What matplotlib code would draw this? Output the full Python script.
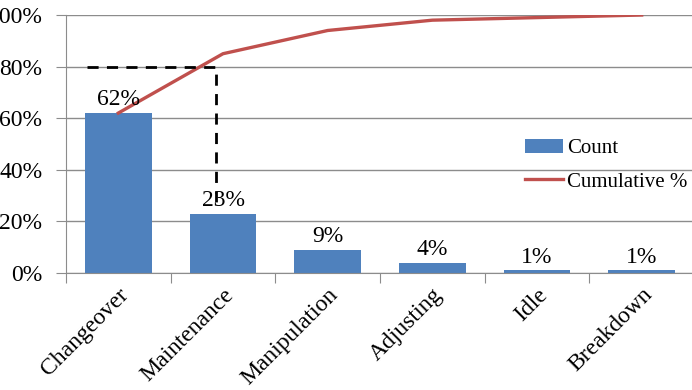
import matplotlib.pyplot as plt
from matplotlib.ticker import FuncFormatter

# Data
categories = ['Changeover', 'Maintenance', 'Manipulation', 'Adjusting', 'Idle', 'Breakdown']
count_pct = [62, 23, 9, 4, 1, 1]
cumulative_pct = [62, 85, 94, 98, 99, 100]

plt.rcParams['font.family'] = ['Liberation Serif', 'DejaVu Serif']
FS = 17

fig = plt.figure(figsize=(6.92, 3.9), dpi=100)
ax = fig.add_axes([66 / 692, 0.30, 628 / 692, 0.6615])

x = list(range(len(categories)))
bars = ax.bar(x, count_pct, width=0.64, color='#4F81BD', label='Count', zorder=2)
line, = ax.plot(x, cumulative_pct, color='#C0504D', linewidth=2.4,
                label='Cumulative %', zorder=3)

# data labels above the bars
for xi, v in zip(x, count_pct):
    ax.annotate(f'{v}%', (xi, v), xytext=(0, 2), textcoords='offset points',
                ha='center', va='bottom', fontsize=FS)

# 80% guide line
ax.plot([-0.3, 0.93, 0.93], [80, 80, 27], color='black', linestyle=(0, (4, 3)),
        linewidth=2, zorder=4)

ax.set_xlim(-0.5, 5.5)
ax.set_ylim(0, 100)
ax.set_yticks(range(0, 101, 20))
ax.yaxis.set_major_formatter(FuncFormatter(lambda v, p: f'{v:.0f}%'))
ax.grid(axis='y', color='#8C8C8C', linewidth=1, zorder=0)
ax.set_axisbelow(True)

# category ticks sit between bars, labels at centers
ax.set_xticks([i - 0.5 for i in range(len(categories) + 1)])
ax.set_xticklabels([])
ax.set_xticks(x, minor=True)
ax.set_xticklabels(categories, minor=True, rotation=45, ha='right',
                   rotation_mode='anchor', fontsize=FS)
ax.tick_params(axis='x', which='minor', length=0, pad=8)
ax.tick_params(axis='x', which='major', length=7, color='#8C8C8C')
ax.tick_params(axis='y', length=7, color='#8C8C8C', labelsize=FS, pad=10)

for side in ['top', 'right']:
    ax.spines[side].set_visible(False)
for side in ['left', 'bottom']:
    ax.spines[side].set_color('#8C8C8C')

ax.legend([bars, line], ['Count', 'Cumulative %'], loc='upper left',
          bbox_to_anchor=(0.731, 0.52), frameon=False, fontsize=15,
          handlelength=1.8, handletextpad=0.2, labelspacing=0.65,
          borderpad=0, borderaxespad=0)

fig.savefig('out.png', dpi=100)
